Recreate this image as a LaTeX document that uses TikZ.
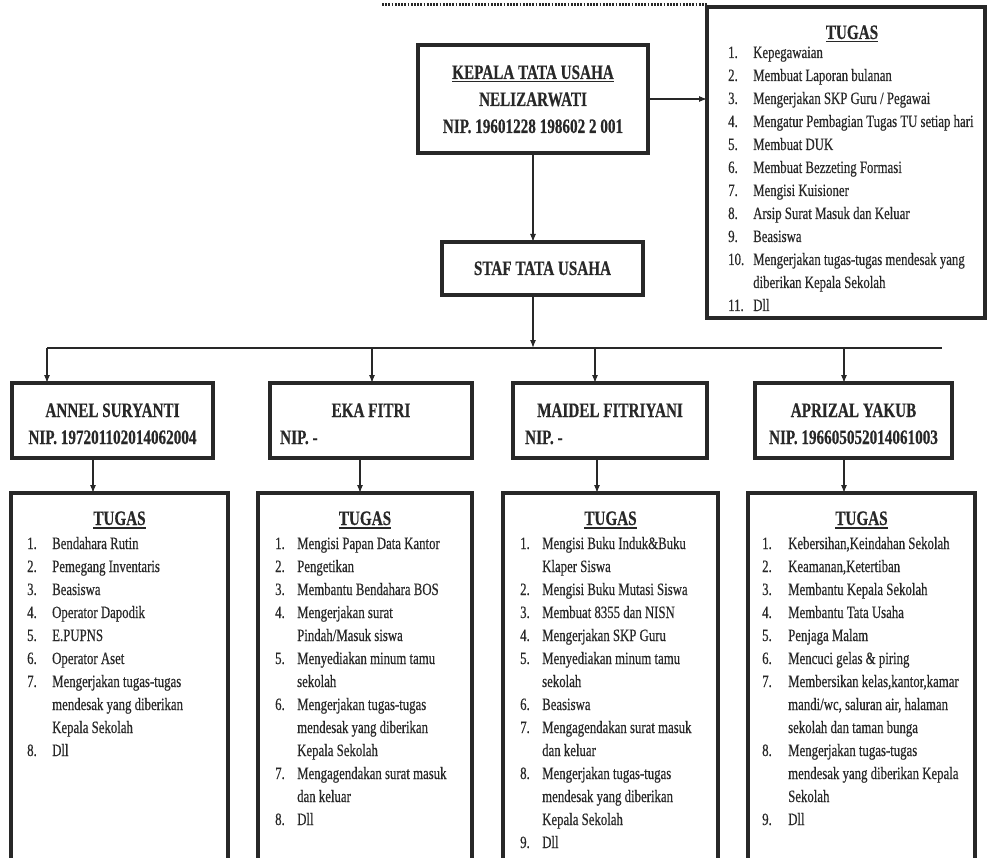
\documentclass[tikz,border=0pt]{standalone}
\usepackage{fontspec}
\setmainfont{Liberation Serif}[FakeStretch=0.74,FakeBold=0.4]
\usetikzlibrary{arrows.meta}
\definecolor{ink}{RGB}{40,40,40}
\newcommand\myul[1]{\setbox0\hbox{#1}\rlap{\rule[-3.5pt]{\wd0}{1.4pt}}\box0}
\newcommand\itemfont{\fontsize{17.3}{23}\selectfont}
\newcommand\headfont{\fontsize{20.5}{27}\selectfont\bfseries}
\begin{document}
\begin{tikzpicture}[x=1pt,y=-1pt,
  boxs/.style={draw=ink, line width=3.2pt, inner sep=0pt, outer sep=0pt, anchor=north west},
  conn/.style={draw=ink, line width=1.2pt},
  arr/.style={conn, -{Latex[length=8pt,width=6pt]}},
  txt/.style={text=ink, inner sep=0pt},
  head/.style={txt, font=\headfont},
  lst/.style={txt, anchor=base west, font=\itemfont},
  dotline/.style={draw=ink, line width=3pt, dash pattern=on 1.8pt off 1.4pt}
]
\useasboundingbox (0,0) rectangle (987,858);
\clip (0,0) rectangle (987,858);
\fill[white] (0,0) rectangle (987,858);

% boxes
\node[boxs, minimum width=278pt, minimum height=311pt] (tugasK) at (707,7) {};
\node[boxs, minimum width=230pt, minimum height=108pt] (ktu) at (418,45) {};
\node[boxs, minimum width=201pt, minimum height=53pt] (staf) at (442,242) {};
\node[boxs, minimum width=201pt, minimum height=75pt] (annel) at (12,383) {};
\node[boxs, minimum width=202pt, minimum height=75pt] (eka) at (270,383) {};
\node[boxs, minimum width=194pt, minimum height=75pt] (maidel) at (513,383) {};
\node[boxs, minimum width=197pt, minimum height=75pt] (aprizal) at (755,383) {};
\node[boxs, minimum width=217pt, minimum height=420pt] (tA) at (11,493) {};
\node[boxs, minimum width=214pt, minimum height=420pt] (tB) at (258,493) {};
\node[boxs, minimum width=215pt, minimum height=420pt] (tC) at (503,493) {};
\node[boxs, minimum width=227pt, minimum height=420pt] (tD) at (748,493) {};

% dotted line at top
\coordinate (dotL) at (382,5);
\draw[dotline] (dotL) -- (dotL -| tugasK.west);

% head texts
\node[head, anchor=base] (ktuT) at ([yshift=-34pt]ktu.north)
  {\begin{tabular}[t]{@{}c@{}}\myul{KEPALA TATA USAHA}\\ NELIZARWATI\\ NIP. 19601228 198602 2 001\end{tabular}};
\node[head, anchor=base] (stafT) at ([yshift=-33pt]staf.north) {STAF TATA USAHA};

\node[head, anchor=base] (annelN) at ([yshift=-34pt]annel.north) {ANNEL SURYANTI};
\node[head, anchor=base] (annelP) at ([yshift=-61pt]annel.north) {NIP. 197201102014062004};
\node[head, anchor=base] (ekaN) at ([yshift=-34pt]eka.north) {EKA FITRI};
\node[head, anchor=base west] (ekaP) at ([xshift=10pt,yshift=-61pt]eka.north west) {NIP. -};
\node[head, anchor=base] (maidelN) at ([yshift=-34pt]maidel.north) {MAIDEL FITRIYANI};
\node[head, anchor=base west] (maidelP) at ([xshift=12pt,yshift=-61pt]maidel.north west) {NIP. -};
\node[head, anchor=base] (aprizalN) at ([yshift=-34pt]aprizal.north) {APRIZAL YAKUB};
\node[head, anchor=base] (aprizalP) at ([yshift=-61pt]aprizal.north) {NIP. 196605052014061003};

% TUGAS titles
\node[head, anchor=base] (tKh) at ([xshift=6pt,yshift=-32pt]tugasK.north) {\myul{TUGAS}};
\node[head, anchor=base] (tAh) at ([yshift=-32pt]tA.north) {\myul{TUGAS}};
\node[head, anchor=base] (tBh) at ([yshift=-32pt]tB.north) {\myul{TUGAS}};
\node[head, anchor=base] (tCh) at ([yshift=-32pt]tC.north) {\myul{TUGAS}};
\node[head, anchor=base] (tDh) at ([yshift=-32pt]tD.north) {\myul{TUGAS}};

% lists
\node[lst] (tKl) at ([xshift=21pt,yshift=-51pt]tugasK.north west) {\begin{tabular}[t]{@{}p{25pt}@{}l@{}}
1. & Kepegawaian\\
2. & Membuat Laporan bulanan\\
3. & Mengerjakan SKP Guru / Pegawai\\
4. & Mengatur Pembagian Tugas TU setiap hari\\
5. & Membuat DUK\\
6. & Membuat Bezzeting Formasi\\
7. & Mengisi Kuisioner\\
8. & Arsip Surat Masuk dan Keluar\\
9. & Beasiswa\\
10. & Mengerjakan tugas-tugas mendesak yang\\
 & diberikan Kepala Sekolah\\
11. & Dll
\end{tabular}};

\node[lst] (tAl) at ([xshift=16pt,yshift=-56pt]tA.north west) {\begin{tabular}[t]{@{}p{25pt}@{}l@{}}
1. & Bendahara Rutin\\
2. & Pemegang Inventaris\\
3. & Beasiswa\\
4. & Operator Dapodik\\
5. & E.PUPNS\\
6. & Operator Aset\\
7. & Mengerjakan tugas-tugas\\
 & mendesak yang diberikan\\
 & Kepala Sekolah\\
8. & Dll
\end{tabular}};

\node[lst] (tBl) at ([xshift=17pt,yshift=-56pt]tB.north west) {\begin{tabular}[t]{@{}p{22pt}@{}l@{}}
1. & Mengisi Papan Data Kantor\\
2. & Pengetikan\\
3. & Membantu Bendahara BOS\\
4. & Mengerjakan surat\\
 & Pindah/Masuk siswa\\
5. & Menyediakan minum tamu\\
 & sekolah\\
6. & Mengerjakan tugas-tugas\\
 & mendesak yang diberikan\\
 & Kepala Sekolah\\
7. & Mengagendakan surat masuk\\
 & dan keluar\\
8. & Dll
\end{tabular}};

\node[lst] (tCl) at ([xshift=17pt,yshift=-56pt]tC.north west) {\begin{tabular}[t]{@{}p{22pt}@{}l@{}}
1. & Mengisi Buku Induk\&Buku\\
 & Klaper Siswa\\
2. & Mengisi Buku Mutasi Siswa\\
3. & Membuat 8355 dan NISN\\
4. & Mengerjakan SKP Guru\\
5. & Menyediakan minum tamu\\
 & sekolah\\
6. & Beasiswa\\
7. & Mengagendakan surat masuk\\
 & dan keluar\\
8. & Mengerjakan tugas-tugas\\
 & mendesak yang diberikan\\
 & Kepala Sekolah\\
9. & Dll
\end{tabular}};

\node[lst] (tDl) at ([xshift=14pt,yshift=-56pt]tD.north west) {\begin{tabular}[t]{@{}p{26pt}@{}l@{}}
1. & Kebersihan,Keindahan Sekolah\\
2. & Keamanan,Ketertiban\\
3. & Membantu Kepala Sekolah\\
4. & Membantu Tata Usaha\\
5. & Penjaga Malam\\
6. & Mencuci gelas \& piring\\
7. & Membersikan kelas,kantor,kamar\\
 & mandi/wc, saluran air, halaman\\
 & sekolah dan taman bunga\\
8. & Mengerjakan tugas-tugas\\
 & mendesak yang diberikan Kepala\\
 & Sekolah\\
9. & Dll
\end{tabular}};

% connectors
\draw[arr] (ktu.east) -- (ktu.east -| tugasK.west);
\draw[arr] (ktu.south) -- (ktu.south |- staf.north);
\coordinate (busL) at (47,348);
\coordinate (busR) at (942,348);
\draw[conn] (busL) -- (busR);
\draw[arr] (staf.south -| ktu.south) -- (ktu.south |- busL);
\coordinate (dB) at (372,348);
\coordinate (dC) at (595,348);
\coordinate (dD) at (844,348);
\draw[arr] (busL) -- (busL |- annel.north);
\draw[arr] (dB) -- (dB |- eka.north);
\draw[arr] (dC) -- (dC |- maidel.north);
\draw[arr] (dD) -- (dD |- aprizal.north);
\coordinate (lA) at (93,0);
\coordinate (lB) at (360,0);
\coordinate (lC) at (597,0);
\coordinate (lD) at (844,0);
\draw[arr] (annel.south -| lA) -- (tA.north -| lA);
\draw[arr] (eka.south -| lB) -- (tB.north -| lB);
\draw[arr] (maidel.south -| lC) -- (tC.north -| lC);
\draw[arr] (aprizal.south -| lD) -- (tD.north -| lD);
\end{tikzpicture}
\end{document}
